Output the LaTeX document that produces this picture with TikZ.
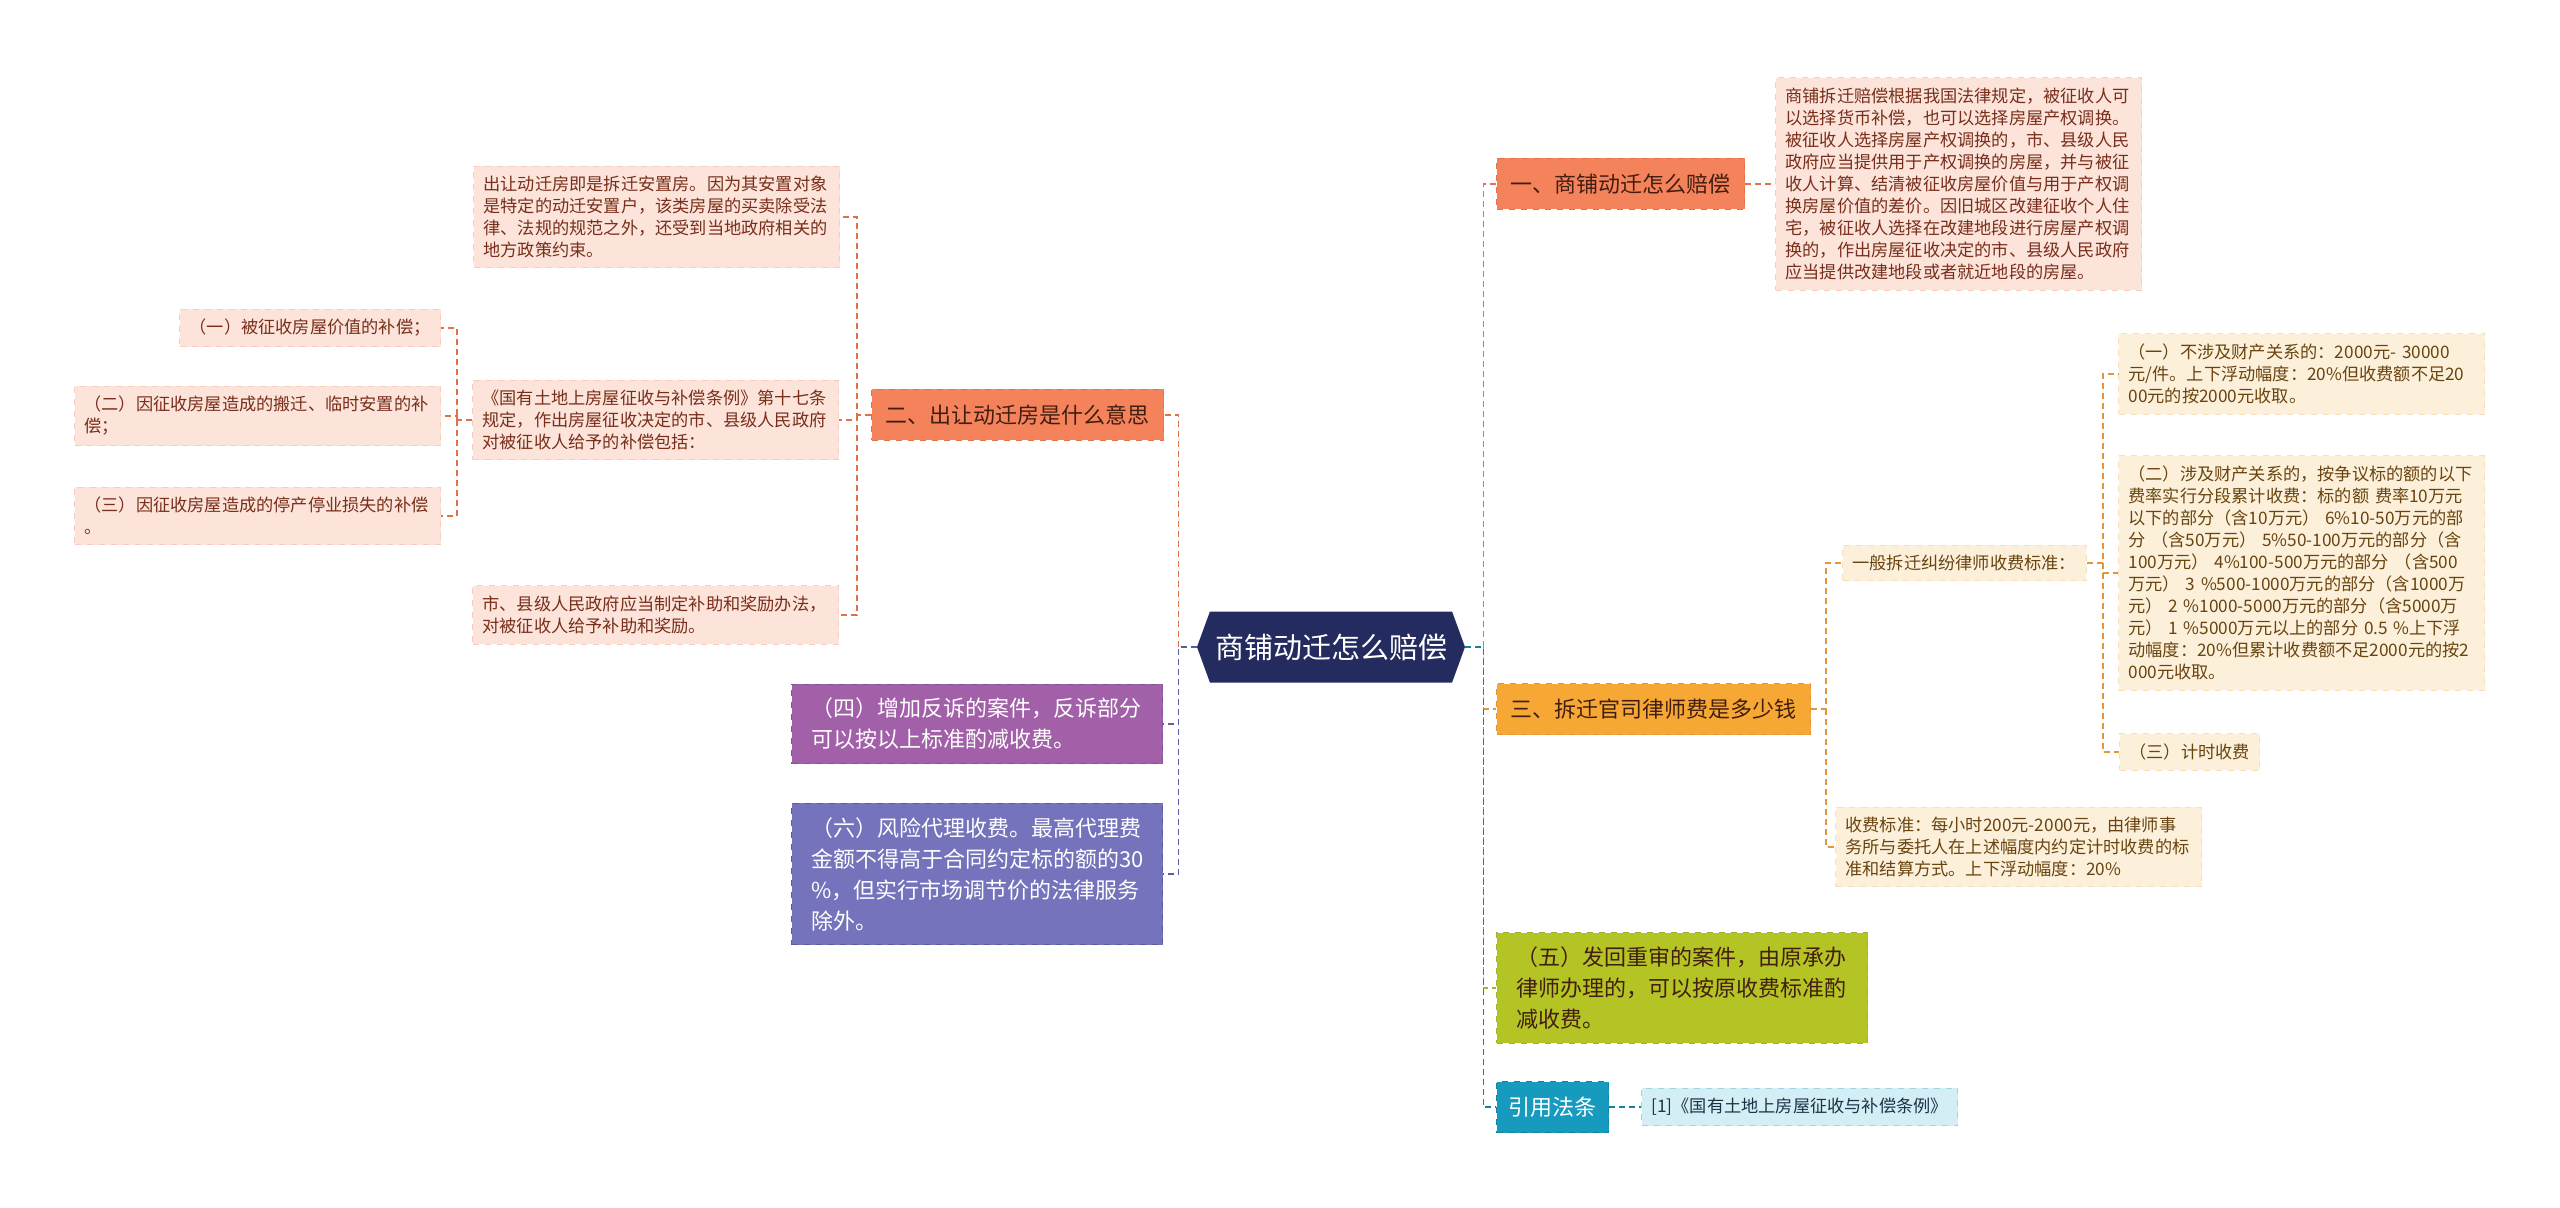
\documentclass[tikz,border=0pt]{standalone}
\usepackage{fontspec}
\setmainfont{Noto Sans CJK SC}
\usepackage{tikz}
\usetikzlibrary{positioning,shapes.symbols,calc}
\usepackage{xcolor}
\definecolor{navy}{RGB}{35,43,95}
\definecolor{coral}{RGB}{244,131,92}
\definecolor{coralline}{RGB}{226,112,72}
\definecolor{amber}{RGB}{247,168,52}
\definecolor{amberline}{RGB}{226,150,60}
\definecolor{plum}{RGB}{161,96,168}
\definecolor{plumline}{RGB}{120,88,150}
\definecolor{iris}{RGB}{117,115,187}
\definecolor{irisline}{RGB}{90,92,160}
\definecolor{lime}{RGB}{181,196,37}
\definecolor{limeline}{RGB}{160,180,50}
\definecolor{teal}{RGB}{22,154,189}
\definecolor{tealline}{RGB}{18,130,160}
\definecolor{peach}{RGB}{252,228,219}
\definecolor{peachtext}{RGB}{120,46,26}
\definecolor{cream}{RGB}{253,240,218}
\definecolor{creamtext}{RGB}{104,68,16}
\definecolor{ice}{RGB}{212,238,245}
\definecolor{icetext}{RGB}{30,50,70}
\definecolor{darktext}{RGB}{66,30,16}

\begin{document}
\begin{tikzpicture}[x=0.5pt, y=-0.5pt,
 root/.style={signal, signal to=east and west, signal pointer angle=140, fill=navy, text=white, font=\fontsize{14.5}{16}\selectfont, minimum width=134pt, minimum height=35.5pt, inner sep=0pt},
 topic/.style={draw, dashed, line width=.5pt, inner xsep=7pt, minimum height=25.5pt, font=\fontsize{11}{15.5}\selectfont},
 widetopic/.style={topic, align=left, text width=166pt, inner xsep=9.75pt, inner ysep=7pt},
 leaf/.style={draw, dashed, line width=.5pt, inner sep=5pt, align=left, font=\fontsize{8.6}{11}\selectfont},
 wideleaf/.style={leaf, text width=173pt},
 peachleaf/.style={fill=peach, draw=peach!80!coralline, text=peachtext},
 creamleaf/.style={fill=cream, draw=cream!80!amberline, text=creamtext},
 iceleaf/.style={fill=ice, draw=ice!75!tealline, text=icetext},
 ln/.style={dash pattern=on 3pt off 2pt, line width=.9pt}]
\useasboundingbox (0,0) rectangle (2560,1208);
% centre
\node[root] (root) at (1331,647) {商铺动迁怎么赔偿};
\coordinate (ltrunk) at ([xshift=-9pt]root.west);
\coordinate (rtrunk) at ([xshift=9pt]root.east);
% right side
\node[topic, fill=coral, draw=coralline, text=darktext, anchor=west] (comp) at (1496,184) {一、商铺动迁怎么赔偿};
\node[wideleaf, peachleaf, anchor=west] (compinfo) at (1775,184) {商铺拆迁赔偿根据我国法律规定，被征收人可\\以选择货币补偿，也可以选择房屋产权调换。\\被征收人选择房屋产权调换的，市、县级人民\\政府应当提供用于产权调换的房屋，并与被征\\收人计算、结清被征收房屋价值与用于产权调\\换房屋价值的差价。因旧城区改建征收个人住\\宅，被征收人选择在改建地段进行房屋产权调\\换的，作出房屋征收决定的市、县级人民政府\\应当提供改建地段或者就近地段的房屋。};
\node[topic, fill=amber, draw=amberline, text=darktext, anchor=west] (fee) at (1496,709) {三、拆迁官司律师费是多少钱};
\node[leaf, creamleaf, anchor=west] (feestd) at (1842,563) {一般拆迁纠纷律师收费标准：};
\node[wideleaf, creamleaf, anchor=west] (feeone) at (2118,374) {（一）不涉及财产关系的：2000元- 30000\\元/件。上下浮动幅度：20\%但收费额不足20\\00元的按2000元收取。};
\node[wideleaf, creamleaf, anchor=west] (feetwo) at (2118,573) {（二）涉及财产关系的，按争议标的额的以下\\费率实行分段累计收费：标的额 费率10万元\\以下的部分（含10万元） 6\%10-50万元的部\\分 （含50万元） 5\%50-100万元的部分（含\\100万元） 4\%100-500万元的部分 （含500\\万元） 3 \%500-1000万元的部分（含1000万\\元） 2 \%1000-5000万元的部分（含5000万\\元） 1 \%5000万元以上的部分 0.5 \%上下浮\\动幅度：20\%但累计收费额不足2000元的按2\\000元收取。};
\node[leaf, creamleaf, anchor=west] (feethree) at (2119,752) {（三）计时收费};
\node[wideleaf, creamleaf, anchor=west] (feehour) at (1835,847) {收费标准：每小时200元-2000元，由律师事\\务所与委托人在上述幅度内约定计时收费的标\\准和结算方式。上下浮动幅度：20\%};
\node[widetopic, fill=lime, draw=limeline, text=darktext, anchor=west] (retrial) at (1496,988) {（五）发回重审的案件，由原承办\\律师办理的，可以按原收费标准酌\\减收费。};
\node[topic, fill=teal, draw=tealline, text=white, anchor=west, inner xsep=6pt] (law) at (1496,1107) {引用法条};
\node[leaf, iceleaf, anchor=west] (lawref) at (1641,1107) {[1]《国有土地上房屋征收与补偿条例》};
% left side
\node[topic, fill=coral, draw=coralline, text=darktext, anchor=east] (house) at (1164,415) {二、出让动迁房是什么意思};
\node[wideleaf, peachleaf, anchor=east] (houseinfo) at (840,217) {出让动迁房即是拆迁安置房。因为其安置对象\\是特定的动迁安置户，该类房屋的买卖除受法\\律、法规的规范之外，还受到当地政府相关的\\地方政策约束。};
\node[wideleaf, peachleaf, anchor=east] (rule) at (839,420) {《国有土地上房屋征收与补偿条例》第十七条\\规定，作出房屋征收决定的市、县级人民政府\\对被征收人给予的补偿包括：};
\node[leaf, peachleaf, anchor=east] (ruleone) at (441,328) {（一）被征收房屋价值的补偿；};
\node[wideleaf, peachleaf, anchor=east] (ruletwo) at (441,416) {（二）因征收房屋造成的搬迁、临时安置的补\\偿；};
\node[wideleaf, peachleaf, anchor=east] (rulethree) at (441,516) {（三）因征收房屋造成的停产停业损失的补偿\\。};
\node[wideleaf, peachleaf, anchor=east] (reward) at (839,615) {市、县级人民政府应当制定补助和奖励办法，\\对被征收人给予补助和奖励。};
\node[widetopic, fill=plum, draw=plumline, text=white, anchor=east] (counter) at (1163,724) {（四）增加反诉的案件，反诉部分\\可以按以上标准酌减收费。};
\node[widetopic, fill=iris, draw=irisline, text=white, anchor=east] (risk) at (1163,874) {（六）风险代理收费。最高代理费\\金额不得高于合同约定标的额的30\\\%，但实行市场调节价的法律服务\\除外。};
% trunks of the sub-branches
\coordinate (htrunk) at ([xshift=-7pt]house.west);
\coordinate (rtrunkl) at ([xshift=-7.5pt]rule.west);
\coordinate (ftrunk) at ([xshift=7.5pt]fee.east);
\coordinate (strunk) at ([xshift=8pt]feestd.east);
% connectors
\draw[ln, color=plumline] (root.west) -- (ltrunk) |- (counter.east);
\draw[ln, color=irisline] (root.west) -- (ltrunk) |- (risk.east);
\draw[ln, color=coralline] (ltrunk) |- (house.east);
\draw[ln, color=amberline] (root.east) -- (rtrunk) |- (fee.west);
\draw[ln, color=limeline] (rtrunk) |- (retrial.west);
\draw[ln, color=tealline] (root.east) -- (rtrunk) |- (law.west);
\draw[ln, color=coralline] (rtrunk) |- (comp.west);
\draw[ln, color=coralline] (comp.east) -- (compinfo.west);
\draw[ln, color=coralline] (house.west) -- (htrunk) |- (houseinfo.east);
\draw[ln, color=coralline] (htrunk) |- (rule.east);
\draw[ln, color=coralline] (htrunk) |- (reward.east);
\draw[ln, color=coralline] (rule.west) -- (rtrunkl) |- (ruleone.east);
\draw[ln, color=coralline] (rtrunkl) |- (ruletwo.east);
\draw[ln, color=coralline] (rtrunkl) |- (rulethree.east);
\draw[ln, color=amberline] (fee.east) -- (ftrunk) |- (feestd.west);
\draw[ln, color=amberline] (ftrunk) |- (feehour.west);
\draw[ln, color=amberline] (feestd.east) -- (strunk) |- (feeone.west);
\draw[ln, color=amberline] (strunk) |- (feetwo.west);
\draw[ln, color=amberline] (strunk) |- (feethree.west);
\draw[ln, color=tealline] (law.east) -- (lawref.west);
\end{tikzpicture}
\end{document}
